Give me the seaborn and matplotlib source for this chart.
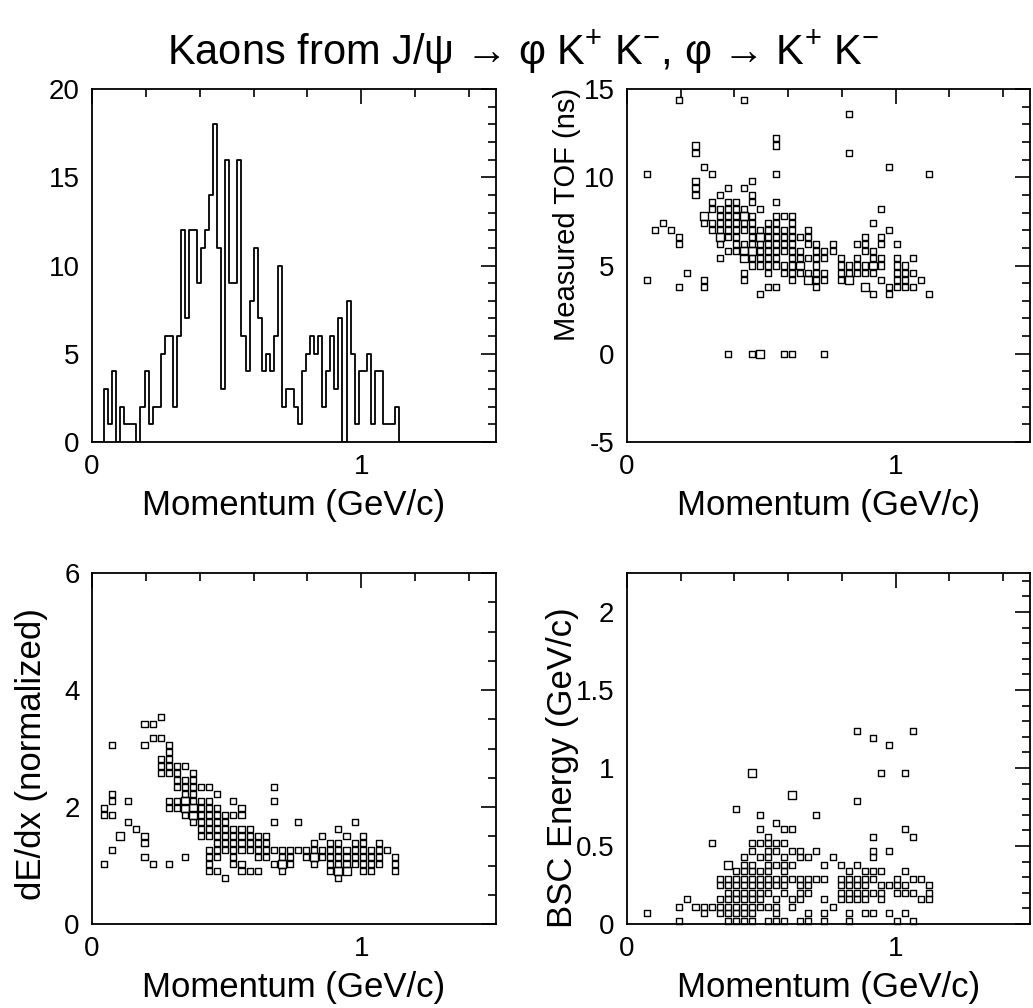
import numpy as np
import pandas as pd
import matplotlib
matplotlib.use("Agg")
import matplotlib.pyplot as plt
import seaborn as sns
from matplotlib.ticker import MultipleLocator, FixedLocator, FuncFormatter

# ---------------- data ----------------
# momentum histogram: 100 bins of 0.015 GeV/c from 0 to 1.5
hist_lo, hist_hi, hist_nbins = 0.0, 1.5, 100
hist_counts = [0, 0, 0, 3, 1, 4, 0, 2, 1, 1,
               1, 0, 2, 4, 1, 2, 2, 5, 6, 6,
               2, 6, 12, 7, 12, 12, 9, 11, 12, 14,
               18, 11, 3, 16, 9, 9, 16, 6, 4, 8,
               11, 7, 4, 5, 4, 6, 10, 2, 3, 3,
               2, 1, 4, 5, 6, 5, 6, 2, 4, 6,
               3, 7, 0, 8, 5, 1, 4, 4, 5, 1,
               4, 4, 1, 1, 1, 2, 0, 0, 0, 0,
               0, 0, 0, 0, 0, 0, 0, 0, 0, 0,
               0, 0, 0, 0, 0, 0, 0, 0, 0, 0]

# TOF (ns) vs momentum: rows of (TOF, [momenta]); repeated momentum = 2 entries
tof_rows = [
    (14.4, [0.195, 0.435]),
    (13.6, [0.825]),
    (12.2, [0.555]),
    (11.8, [0.255, 0.555]),
    (11.4, [0.255, 0.825]),
    (10.6, [0.285, 0.975]),
    (10.2, [0.075, 0.315, 0.555, 1.125]),
    (9.8, [0.255, 0.465]),
    (9.4, [0.255, 0.375, 0.435]),
    (9.0, [0.255, 0.345, 0.465]),
    (8.6, [0.315, 0.375, 0.405, 0.465, 0.555]),
    (8.2, [0.315, 0.345, 0.375, 0.405, 0.435, 0.495, 0.945]),
    (7.8, [0.285, 0.285, 0.345, 0.375, 0.405, 0.435, 0.435, 0.465, 0.555, 0.585, 0.615]),
    (7.4, [0.135, 0.285, 0.315, 0.345, 0.375, 0.405, 0.435, 0.465, 0.525, 0.555, 0.615, 0.915]),
    (7.0, [0.105, 0.165, 0.315, 0.345, 0.375, 0.405, 0.435, 0.465, 0.495, 0.525, 0.555, 0.585,
           0.615, 0.675, 0.975]),
    (6.6, [0.195, 0.345, 0.345, 0.375, 0.405, 0.465, 0.495, 0.495, 0.525, 0.555, 0.585, 0.615,
           0.645, 0.675, 0.885, 0.945]),
    (6.2, [0.195, 0.345, 0.405, 0.435, 0.465, 0.495, 0.525, 0.555, 0.585, 0.615, 0.675, 0.705,
           0.765, 0.855, 0.885, 0.945, 1.005]),
    (5.8, [0.375, 0.405, 0.435, 0.435, 0.465, 0.465, 0.495, 0.525, 0.555, 0.585, 0.615, 0.645,
           0.705, 0.735, 0.765, 0.885, 0.915]),
    (5.4, [0.345, 0.435, 0.435, 0.465, 0.495, 0.525, 0.555, 0.615, 0.645, 0.675, 0.705, 0.735,
           0.795, 0.855, 0.915, 0.945, 1.005, 1.065]),
    (5.0, [0.465, 0.495, 0.525, 0.555, 0.585, 0.615, 0.645, 0.645, 0.705, 0.795, 0.825, 0.855,
           0.885, 0.915, 0.915, 0.945, 1.005, 1.035]),
    (4.6, [0.225, 0.435, 0.525, 0.585, 0.615, 0.645, 0.675, 0.705, 0.735, 0.795, 0.825, 0.855,
           0.885, 0.915, 1.005, 1.035, 1.065]),
    (4.2, [0.075, 0.285, 0.435, 0.615, 0.675, 0.675, 0.705, 0.735, 0.795, 0.825, 0.825, 0.945,
           1.005, 1.035, 1.095]),
    (3.8, [0.195, 0.285, 0.525, 0.555, 0.705, 0.885, 0.885, 0.975, 1.005, 1.035, 1.065]),
    (3.4, [0.495, 0.915, 0.975, 1.125]),
    (0.0, [0.375, 0.465, 0.495, 0.495, 0.585, 0.615, 0.735]),
]

# dE/dx (normalized) vs momentum
dedx_rows = [
    (3.54, [0.255]),
    (3.42, [0.195, 0.225]),
    (3.18, [0.225, 0.255]),
    (3.06, [0.075, 0.195, 0.285]),
    (2.94, [0.285]),
    (2.82, [0.255, 0.285]),
    (2.70, [0.255, 0.285, 0.315, 0.345]),
    (2.58, [0.255, 0.285, 0.315, 0.375]),
    (2.46, [0.315, 0.345, 0.375]),
    (2.34, [0.315, 0.345, 0.375, 0.405, 0.435, 0.675]),
    (2.22, [0.075, 0.345, 0.375, 0.465]),
    (2.10, [0.075, 0.135, 0.285, 0.315, 0.345, 0.345, 0.375, 0.405, 0.435, 0.525, 0.675]),
    (1.98, [0.045, 0.285, 0.315, 0.345, 0.345, 0.375, 0.375, 0.405, 0.435, 0.465, 0.555]),
    (1.86, [0.045, 0.075, 0.345, 0.375, 0.375, 0.405, 0.435, 0.465, 0.495, 0.525, 0.555]),
    (1.74, [0.135, 0.375, 0.405, 0.435, 0.465, 0.495, 0.675, 0.765, 0.975]),
    (1.62, [0.165, 0.405, 0.435, 0.465, 0.495, 0.525, 0.555, 0.585, 0.915]),
    (1.50, [0.105, 0.105, 0.195, 0.405, 0.435, 0.465, 0.495, 0.525, 0.555, 0.585, 0.615, 0.645,
            0.855, 0.945, 1.005]),
    (1.38, [0.195, 0.465, 0.495, 0.525, 0.555, 0.585, 0.615, 0.645, 0.825, 0.885, 0.915, 0.975,
            1.005, 1.065]),
    (1.26, [0.075, 0.435, 0.465, 0.495, 0.525, 0.555, 0.585, 0.615, 0.645, 0.675, 0.705, 0.735,
            0.765, 0.795, 0.825, 0.855, 0.885, 0.915, 0.945, 0.975, 1.005, 1.035, 1.065, 1.095]),
    (1.14, [0.195, 0.345, 0.435, 0.465, 0.525, 0.615, 0.645, 0.705, 0.735, 0.795, 0.825, 0.825,
            0.855, 0.885, 0.915, 0.945, 0.975, 1.005, 1.035, 1.065, 1.125]),
    (1.02, [0.045, 0.225, 0.285, 0.435, 0.525, 0.555, 0.675, 0.705, 0.705, 0.735, 0.825, 0.885,
            0.915, 0.945, 0.975, 1.005, 1.035, 1.065, 1.125]),
    (0.90, [0.435, 0.465, 0.555, 0.585, 0.615, 0.705, 0.885, 0.915, 0.915, 0.945, 0.945, 1.005,
            1.035, 1.125]),
    (0.78, [0.495, 0.915]),
]

# BSC energy (GeV/c) vs momentum
bsc_rows = [
    (1.24, [0.855, 1.065]),
    (1.19, [0.915]),
    (1.15, [0.975]),
    (0.97, [0.465, 0.465, 0.945, 1.035]),
    (0.83, [0.615, 0.615]),
    (0.79, [0.855]),
    (0.74, [0.405]),
    (0.70, [0.495, 0.705]),
    (0.65, [0.555]),
    (0.61, [0.495, 0.585, 0.615, 1.035]),
    (0.56, [0.525, 0.915, 1.065]),
    (0.52, [0.315, 0.465, 0.495, 0.525, 0.555, 0.585]),
    (0.47, [0.465, 0.525, 0.555, 0.615, 0.645, 0.705, 0.915, 0.975]),
    (0.43, [0.435, 0.495, 0.525, 0.585, 0.645, 0.675, 0.765, 0.915]),
    (0.38, [0.375, 0.375, 0.435, 0.465, 0.525, 0.555, 0.585, 0.615, 0.735, 0.795, 0.855]),
    (0.34, [0.405, 0.435, 0.465, 0.495, 0.525, 0.585, 0.825, 0.885, 0.915, 0.945, 1.035]),
    (0.29, [0.345, 0.375, 0.405, 0.435, 0.465, 0.495, 0.525, 0.555, 0.585, 0.615, 0.645, 0.675,
            0.705, 0.735, 0.795, 0.825, 0.855, 0.885, 0.915, 1.005, 1.065, 1.095]),
    (0.25, [0.345, 0.375, 0.405, 0.435, 0.465, 0.495, 0.525, 0.555, 0.585, 0.645, 0.675, 0.795,
            0.825, 0.855, 0.885, 0.945, 0.975, 1.005, 1.035, 1.125]),
    (0.20, [0.375, 0.405, 0.435, 0.465, 0.495, 0.525, 0.585, 0.645, 0.675, 0.795, 0.825, 0.855,
            0.885, 0.915, 0.945, 1.005, 1.035, 1.065, 1.125]),
    (0.16, [0.225, 0.345, 0.375, 0.405, 0.435, 0.465, 0.495, 0.555, 0.615, 0.645, 0.735, 0.795,
            0.825, 0.855, 0.885, 0.945, 1.095, 1.125]),
    (0.11, [0.195, 0.255, 0.285, 0.315, 0.345, 0.375, 0.405, 0.435, 0.465, 0.495, 0.525, 0.555,
            0.615, 0.765]),
    (0.07, [0.075, 0.285, 0.345, 0.375, 0.405, 0.435, 0.465, 0.555, 0.675, 0.735, 0.825, 0.885,
            0.915, 0.975, 1.035]),
    (0.02, [0.195, 0.375, 0.405, 0.435, 0.465, 0.525, 0.555, 0.585, 0.645, 0.675, 0.735, 0.825,
            1.005, 1.065]),
]

title = "Kaons from J/ψ → φ K$^{+}$ K$^{-}$, φ → K$^{+}$ K$^{-}$"
xlabel = "Momentum (GeV/c)"
ylabels = ["", "Measured TOF (ns)", "dE/dx (normalized)", "BSC Energy (GeV/c)"]

# ---------------- style ----------------
sns.set_theme(style="white")
plt.rcParams["font.family"] = ["Liberation Sans", "DejaVu Sans"]
plt.rcParams["mathtext.fontset"] = "custom"
plt.rcParams["mathtext.rm"] = "Liberation Sans"
plt.rcParams["mathtext.it"] = "Liberation Sans"
plt.rcParams["mathtext.default"] = "regular"
plt.rcParams["axes.labelcolor"] = "black"
plt.rcParams["text.color"] = "black"

W, H = 1033, 1008
fig = plt.figure(figsize=(W / 100, H / 100), dpi=100)


def add_ax(x0, y0, x1, y1):
    return fig.add_axes([x0 / W, 1 - y1 / H, (x1 - x0) / W, (y1 - y0) / H])


ax1 = add_ax(92, 89, 496, 442)
ax2 = add_ax(627, 89, 1030, 442)
ax3 = add_ax(92, 573, 496, 924)
ax4 = add_ax(627, 573, 1030, 924)

fmt = FuncFormatter(lambda v, p: f"{v:g}")


def style(ax, ylim, ymaj, ymin):
    ax.set_xlim(0, 1.5)
    ax.set_ylim(*ylim)
    ax.xaxis.set_major_locator(FixedLocator([0, 1]))
    ax.xaxis.set_minor_locator(MultipleLocator(0.2))
    ax.yaxis.set_major_locator(MultipleLocator(ymaj))
    ax.yaxis.set_minor_locator(MultipleLocator(ymin))
    ax.xaxis.set_major_formatter(fmt)
    ax.yaxis.set_major_formatter(fmt)
    ax.tick_params(which="both", direction="in", top=True, right=True,
                   width=1.2, colors="black", labelsize=20, pad=9)
    ax.tick_params(which="major", length=11)
    ax.tick_params(which="minor", length=6)
    for s in ax.spines.values():
        s.set_linewidth(1.3)
        s.set_color("black")
    ax.set_xlabel(xlabel, fontsize=25, labelpad=6)
    ax.grid(False)


def rows_to_df(rows, yname):
    p, v = [], []
    for yv, xs in rows:
        for xv in xs:
            p.append(xv)
            v.append(yv)
    df = pd.DataFrame({"p": p, yname: v})
    df = df.groupby(["p", yname]).size().reset_index(name="n")
    return df


# histogram
centers = np.linspace(hist_lo, hist_hi, hist_nbins + 1)[:-1] + (hist_hi - hist_lo) / hist_nbins / 2
sns.histplot(x=centers, weights=hist_counts, bins=hist_nbins, binrange=(hist_lo, hist_hi),
             element="step", fill=False, color="black", linewidth=1.3, ax=ax1)
style(ax1, (0, 20), 5, 1)
ax1.set_ylabel("")

# scatter panels (box size grows with entries per cell)
size_map = {1: 19, 2: 33, 3: 42}
panels = [(ax2, tof_rows, (-5, 15), 5, 1),
          (ax3, dedx_rows, (0, 6), 2, 0.5),
          (ax4, bsc_rows, (0, 2.25), 0.5, 0.1)]
for ax, rows, ylim, ymaj, ymin in panels:
    df = rows_to_df(rows, "v")
    sns.scatterplot(data=df, x="p", y="v", size="n", sizes=size_map, marker="s",
                    facecolor="none", edgecolor="black", linewidth=1.0,
                    legend=False, ax=ax, clip_on=False)
    style(ax, ylim, ymaj, ymin)

label_cfg = {ax2: (-0.148, 0.645, 21), ax3: (-0.149, 0.484, 25), ax4: (-0.16, 0.444, 25)}
for ax, lab in zip([ax2, ax3, ax4], ylabels[1:]):
    lx, ly, fs = label_cfg[ax]
    ax.set_ylabel(lab, fontsize=fs)
    ax.yaxis.label.set_verticalalignment("center")
    ax.yaxis.set_label_coords(lx, ly)

fig.text(523 / W, 1 - 52 / H, title, ha="center", va="center", fontsize=30)

fig.savefig("out.png", dpi=100)
